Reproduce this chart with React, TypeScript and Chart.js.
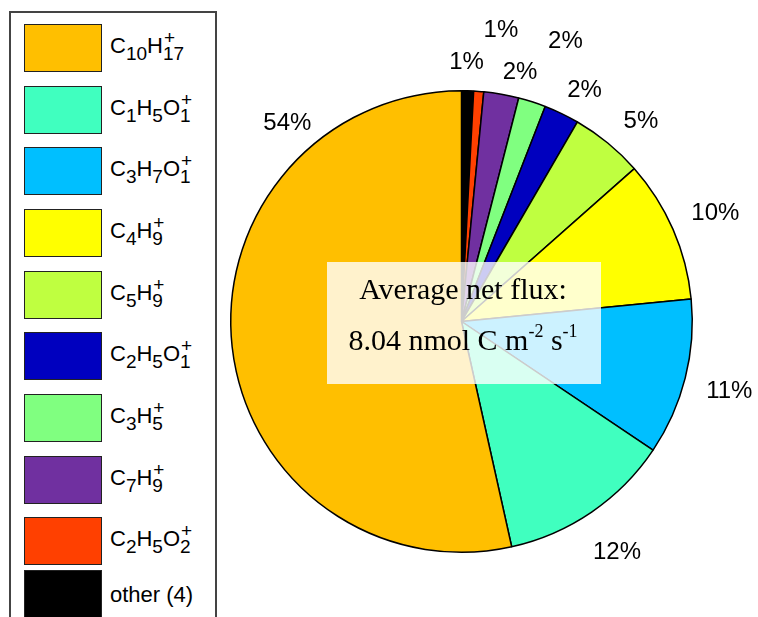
import React, { useEffect, useRef } from 'react';
import { Chart, registerables } from 'chart.js';

Chart.register(...registerables);

// ---- data (legend order) ----
const speciesTex = [
  'C_{10}H_{17}^{+}',
  'C_{1}H_{5}O_{1}^{+}',
  'C_{3}H_{7}O_{1}^{+}',
  'C_{4}H_{9}^{+}',
  'C_{5}H_{9}^{+}',
  'C_{2}H_{5}O_{1}^{+}',
  'C_{3}H_{5}^{+}',
  'C_{7}H_{9}^{+}',
  'C_{2}H_{5}O_{2}^{+}',
  'other (4)',
];
const sharePercent = [53.5, 12.1, 10.97, 9.97, 5.1, 2.47, 1.92, 2.45, 0.7, 0.84];
const percentLabels = ['54%', '12%', '11%', '10%', '5%', '2%', '2%', '2%', '1%', '1%'];
const sliceColors = [
  '#FFBF00',
  '#40FFBF',
  '#00BFFF',
  '#FFFF00',
  '#BFFF40',
  '#0000BF',
  '#80FF80',
  '#7030A0',
  '#FF4000',
  '#000000',
];
const fluxTitle = 'Average net flux:';
const fluxValue = '8.04';

// ---- label layout (legend order): angle shift from slice middle (deg), radius factor ----
const labelAngleShift = [55.1, 0.3, 0.2, 0.3, 2.45, 2.2, 2.5, 3.25, 3.4, -0.4];
const labelRadiusFactor = [1.146, 1.204, 1.198, 1.197, 1.167, 1.139, 1.297, 1.112, 1.278, 1.126];

// chart draws clockwise from top: reverse legend order
const chartOrder = speciesTex.map((_, i) => speciesTex.length - 1 - i);

const SANS = '"Liberation Sans", Arial, Helvetica, sans-serif';
const SERIF = '"Liberation Serif", "Times New Roman", Times, serif';

function TexLabel({ tex }: { tex: string }) {
  const re = /([A-Za-z]+)_\{(\d+)\}(\^\{\+\})?/g;
  const parts: React.ReactNode[] = [];
  let m: RegExpExecArray | null;
  let k = 0;
  let matched = false;
  while ((m = re.exec(tex)) !== null) {
    matched = true;
    parts.push(<span key={k++}>{m[1]}</span>);
    parts.push(
      <span key={k++} style={{ position: 'relative', display: 'inline-block', fontSize: 19 }}>
        <span style={{ position: 'relative', top: 7 }}>{m[2]}</span>
        {m[3] ? (
          <span style={{ position: 'absolute', left: 1, top: -9 }}>+</span>
        ) : null}
      </span>
    );
  }
  if (!matched) return <span>{tex}</span>;
  return <span>{parts}</span>;
}

const pieLabelPlugin = {
  id: 'pieLabels',
  afterDatasetsDraw(chart: any) {
    const ctx = chart.ctx;
    const meta = chart.getDatasetMeta(0);
    ctx.save();
    ctx.fillStyle = '#000';
    ctx.font = `24px ${SANS}`;
    ctx.textAlign = 'center';
    ctx.textBaseline = 'middle';
    meta.data.forEach((arc: any, j: number) => {
      const i = chartOrder[j];
      const { x, y, startAngle, endAngle, outerRadius } = arc.getProps(
        ['x', 'y', 'startAngle', 'endAngle', 'outerRadius'],
        true
      );
      const a = (startAngle + endAngle) / 2 + (labelAngleShift[i] * Math.PI) / 180;
      const r = outerRadius * labelRadiusFactor[i];
      ctx.fillText(percentLabels[i], x + Math.cos(a) * r, y + Math.sin(a) * r + 1);
    });
    ctx.restore();

    // annotation box
    const arc0 = meta.data[0];
    const cx = arc0.x;
    const cy = arc0.y;
    ctx.save();
    ctx.fillStyle = 'rgba(255,255,255,0.8)';
    ctx.fillRect(cx - 134.5, cy - 59.5, 274, 122);
    ctx.fillStyle = '#000';
    ctx.textBaseline = 'alphabetic';
    ctx.textAlign = 'center';
    ctx.font = `30px ${SERIF}`;
    ctx.fillText(fluxTitle, cx + 1.5, cy - 22.5);

    const segs: [string, boolean][] = [
      [`${fluxValue} nmol C m`, false],
      ['-2', true],
      [' s', false],
      ['-1', true],
    ];
    ctx.textAlign = 'left';
    const mainFont = `30px ${SERIF}`;
    const supFont = `18px ${SERIF}`;
    let total = 0;
    for (const [t, sup] of segs) {
      ctx.font = sup ? supFont : mainFont;
      total += ctx.measureText(t).width;
    }
    let xx = cx + 1.5 - total / 2;
    const base = cy + 28.5;
    for (const [t, sup] of segs) {
      ctx.font = sup ? supFont : mainFont;
      ctx.fillText(t, xx, sup ? base - 13 : base);
      xx += ctx.measureText(t).width;
    }
    ctx.restore();
  },
};

export default function App() {
  const canvasRef = useRef<HTMLCanvasElement | null>(null);

  useEffect(() => {
    if (!canvasRef.current) return;
    const chart = new Chart(canvasRef.current, {
      type: 'pie',
      data: {
        labels: chartOrder.map((i) => speciesTex[i]),
        datasets: [
          {
            data: chartOrder.map((i) => sharePercent[i]),
            backgroundColor: chartOrder.map((i) => sliceColors[i]),
            borderColor: '#000000',
            borderWidth: 1.5,
            hoverOffset: 0,
          },
        ],
      },
      options: {
        responsive: false,
        animation: false,
        events: [],
        layout: { padding: { left: 230, right: 65, top: 90, bottom: 64 } },
        plugins: {
          legend: { display: false },
          tooltip: { enabled: false },
        },
      },
      plugins: [pieLabelPlugin],
    });
    return () => chart.destroy();
  }, []);

  return (
    <div
      style={{
        position: 'fixed',
        left: 0,
        top: 0,
        width: 758,
        height: 617,
        overflow: 'hidden',
        background: '#fff',
      }}
    >
      <canvas
        ref={canvasRef}
        width={758}
        height={617}
        style={{ position: 'absolute', left: 0, top: 0, width: 758, height: 617 }}
      />
      <div
        style={{
          position: 'absolute',
          left: 9,
          top: 11,
          width: 208,
          height: 640,
          boxSizing: 'border-box',
          border: '2px solid #444',
          background: '#fff',
          fontFamily: SANS,
          fontSize: 22,
          color: '#000',
        }}
      >
        {speciesTex.map((tex, i) => {
          const top = i < 9 ? 24 + i * 61.65 : 570;
          return (
            <div
              key={i}
              style={{
                position: 'absolute',
                left: 24 - 11,
                top: top - 13,
                height: 48,
                display: 'flex',
                alignItems: 'center',
                whiteSpace: 'nowrap',
              }}
            >
              <div
                style={{
                  width: 78,
                  height: 48,
                  boxSizing: 'border-box',
                  border: '1.5px solid #222',
                  background: sliceColors[i],
                  flex: '0 0 auto',
                }}
              />
              <div style={{ marginLeft: 8, lineHeight: 1, position: 'relative', top: i < 9 ? -2 : 1 }}>
                <TexLabel tex={tex} />
              </div>
            </div>
          );
        })}
      </div>
    </div>
  );
}
